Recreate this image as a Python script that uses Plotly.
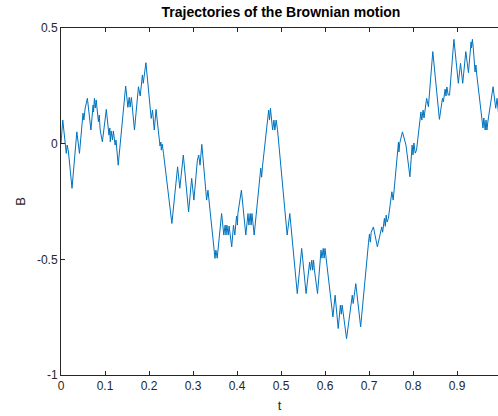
import plotly.graph_objects as go

t = [0.000, 0.004, 0.012, 0.014, 0.017, 0.025, 0.036, 0.042, 0.050, 0.052, 0.055, 0.060,
     0.068, 0.073, 0.074, 0.076, 0.078, 0.080, 0.085, 0.087, 0.089, 0.094, 0.103, 0.109,
     0.111, 0.112, 0.114, 0.117, 0.119, 0.123, 0.125, 0.130, 0.147, 0.152, 0.155, 0.157,
     0.160, 0.167, 0.176, 0.180, 0.185, 0.187, 0.193, 0.205, 0.208, 0.212, 0.216, 0.225,
     0.227, 0.228, 0.230, 0.233, 0.252, 0.265, 0.270, 0.278, 0.290, 0.297, 0.302, 0.310,
     0.313, 0.316, 0.320, 0.331, 0.334, 0.348, 0.350, 0.352, 0.355, 0.365, 0.370, 0.373,
     0.375, 0.377, 0.380, 0.382, 0.388, 0.392, 0.395, 0.399, 0.401, 0.402, 0.410, 0.420,
     0.425, 0.427, 0.430, 0.432, 0.434, 0.439, 0.451, 0.454, 0.456, 0.458, 0.472, 0.474,
     0.476, 0.478, 0.481, 0.484, 0.486, 0.489, 0.492, 0.514, 0.520, 0.537, 0.547, 0.557,
     0.565, 0.567, 0.570, 0.572, 0.574, 0.576, 0.583, 0.591, 0.593, 0.596, 0.598, 0.600,
     0.602, 0.618, 0.623, 0.630, 0.635, 0.637, 0.639, 0.642, 0.649, 0.662, 0.664, 0.670,
     0.681, 0.699, 0.701, 0.703, 0.705, 0.710, 0.719, 0.729, 0.731, 0.735, 0.737, 0.739,
     0.741, 0.744, 0.752, 0.755, 0.765, 0.767, 0.768, 0.770, 0.776, 0.784, 0.793, 0.798,
     0.800, 0.802, 0.805, 0.808, 0.818, 0.820, 0.823, 0.825, 0.831, 0.835, 0.845, 0.860,
     0.867, 0.869, 0.873, 0.875, 0.877, 0.880, 0.883, 0.893, 0.903, 0.908, 0.913, 0.920,
     0.926, 0.932, 0.933, 0.935, 0.937, 0.941, 0.943, 0.945, 0.959, 0.961, 0.964, 0.966,
     0.968, 0.970, 0.982, 0.988, 0.991, 0.994, 0.998]

B = [0.000, 0.102, -0.042, -0.006, -0.036, -0.193, 0.051, -0.042, 0.132, 0.102, 0.154, 0.196,
     0.059, 0.167, 0.137, 0.196, 0.154, 0.189, 0.095, 0.124, 0.059, 0.008, 0.148, 0.037,
     0.068, 0.008, 0.055, 0.016, 0.055, -0.006, 0.016, -0.093, 0.249, 0.157, 0.200, 0.158,
     0.200, 0.059, 0.246, 0.206, 0.297, 0.261, 0.350, 0.109, 0.145, 0.059, 0.148, -0.010,
     0.007, -0.028, -0.002, -0.042, -0.345, -0.100, -0.193, -0.049, -0.295, -0.150, -0.244, -0.071,
     -0.049, -0.093, -0.003, -0.244, -0.201, -0.460, -0.496, -0.460, -0.495, -0.302, -0.395, -0.352,
     -0.395, -0.352, -0.395, -0.356, -0.446, -0.352, -0.395, -0.313, -0.352, -0.302, -0.201, -0.395,
     -0.302, -0.352, -0.302, -0.352, -0.302, -0.395, -0.149, -0.106, -0.145, -0.097, 0.145, 0.102,
     0.153, 0.102, 0.059, 0.102, 0.059, 0.102, 0.062, -0.395, -0.302, -0.648, -0.453, -0.648,
     -0.512, -0.547, -0.504, -0.547, -0.504, -0.547, -0.648, -0.460, -0.495, -0.453, -0.495, -0.453,
     -0.486, -0.749, -0.655, -0.799, -0.698, -0.737, -0.698, -0.749, -0.843, -0.655, -0.691, -0.605,
     -0.792, -0.426, -0.391, -0.426, -0.383, -0.360, -0.446, -0.360, -0.383, -0.323, -0.357, -0.309,
     -0.339, -0.323, -0.208, -0.244, -0.036, 0.007, -0.036, 0.003, 0.051, -0.006, -0.143, -0.006,
     -0.049, 0.003, -0.041, -0.028, 0.137, 0.102, 0.145, 0.111, 0.196, 0.160, 0.398, 0.105,
     0.196, 0.181, 0.236, 0.206, 0.245, 0.210, 0.210, 0.451, 0.261, 0.347, 0.261, 0.398,
     0.307, 0.440, 0.414, 0.451, 0.414, 0.310, 0.340, 0.297, 0.068, 0.111, 0.059, 0.102,
     0.059, 0.093, 0.246, 0.153, 0.196, 0.137, 0.167]

x_ticks = [0, 0.1, 0.2, 0.3, 0.4, 0.5, 0.6, 0.7, 0.8, 0.9]
x_labels = ["0", "0.1", "0.2", "0.3", "0.4", "0.5", "0.6", "0.7", "0.8", "0.9"]
y_ticks = [-1, -0.5, 0, 0.5]
y_labels = ["-1", "-0.5", "0", "0.5"]

axis_col = "#262626"
font = "Liberation Sans, Helvetica, Arial, sans-serif"

fig = go.Figure()
fig.add_trace(go.Scatter(x=t, y=B, mode="lines",
                         line=dict(color="#0072BD", width=1)))

fig.update_layout(
    width=498, height=416,
    margin=dict(l=61, r=0, t=28, b=41),
    paper_bgcolor="white", plot_bgcolor="white",
    showlegend=False,
    font=dict(family=font, size=12, color=axis_col),
    title=dict(text="<b>Trajectories of the Brownian motion</b>",
               x=0.5034, xref="paper", xanchor="center",
               y=1 - 12 / 416, yref="container", yanchor="middle",
               font=dict(family=font, size=14, color="black")),
    xaxis=dict(range=[0, 0.99318], tickvals=x_ticks, ticktext=x_labels,
               ticks="inside", ticklen=4, tickcolor=axis_col, tickwidth=1,
               showline=True, linecolor=axis_col, linewidth=1, mirror="ticks",
               showgrid=False, zeroline=False, automargin=False,
               title=dict(text="t", standoff=8, font=dict(size=13, color=axis_col))),
    yaxis=dict(range=[-1, 0.5], tickvals=y_ticks, ticktext=y_labels,
               ticks="inside", ticklen=4, tickcolor=axis_col, tickwidth=1,
               showline=True, linecolor=axis_col, linewidth=1,
               showgrid=False, zeroline=False, automargin=False,
               title=dict(text="B", standoff=8, font=dict(size=13, color=axis_col))),
)

fig.write_html("out.html",
               config={"displayModeBar": False},
               post_script="document.body.style.margin='0';document.body.style.overflow='hidden';")
